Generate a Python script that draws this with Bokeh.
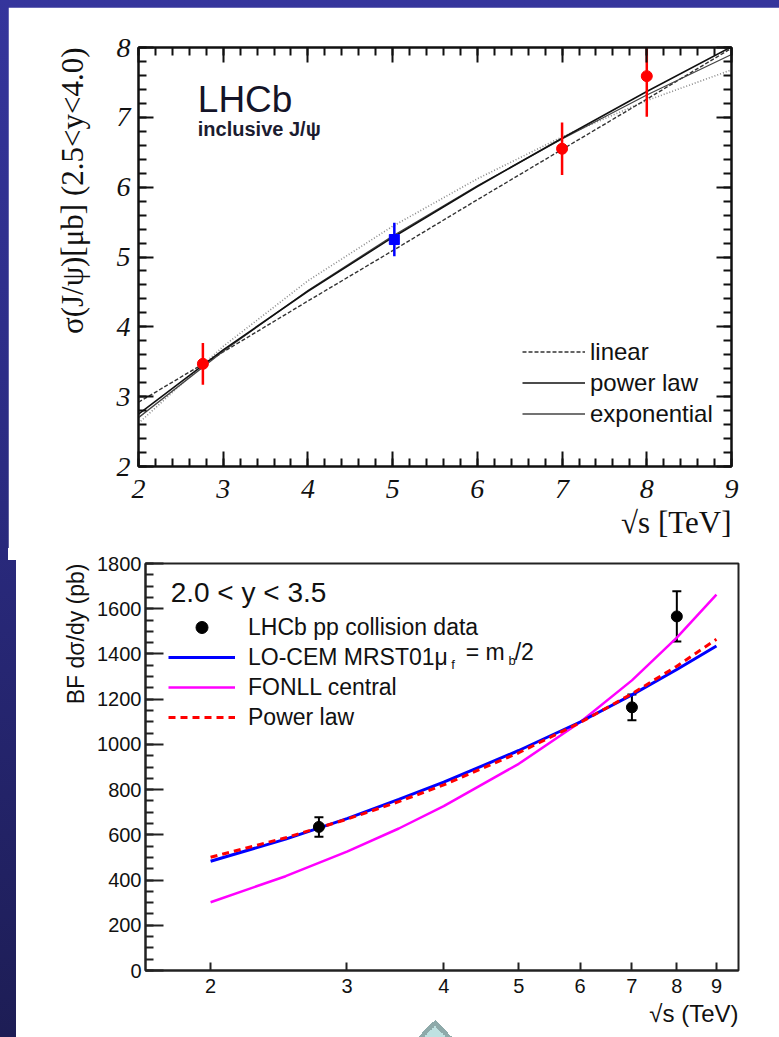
from bokeh.plotting import figure
from bokeh.models import (ColumnDataSource, Whisker, TeeHead, Legend, LegendItem, Label, Title,
                          LinearAxis, SingleIntervalTicker, FixedTicker, Range1d,
                          CustomJSTickFormatter, NumeralTickFormatter)
from bokeh.layouts import column, row
from bokeh.embed import file_html
from bokeh.resources import INLINE

# ---------------- inclusive J/psi cross-section, 2.5<y<4.0 ----------------
jpsi_sqrts = [2.76, 7.0, 8.0]
jpsi_sigma = [3.47, 6.55, 7.59]
jpsi_err = [0.30, 0.375, 0.58]

jpsi5_sqrts = [5.02]
jpsi5_sigma = [5.25]
jpsi5_err = [0.24]

fit_sqrts = [2, 3, 4, 5, 6, 7, 8, 9]
fit_linear = [2.92, 3.64, 4.37, 5.09, 5.82, 6.54, 7.26, 7.99]
fit_power = [2.75, 3.67, 4.51, 5.28, 6.01, 6.70, 7.37, 8.01]
fit_expo = [2.70, 3.65, 4.52, 5.30, 6.02, 6.69, 7.32, 7.90]
fit_band = [2.62, 3.72, 4.66, 5.44, 6.12, 6.72, 7.24, 7.68]

# ---------------- BF dsigma/dy, 2.0<y<3.5 ----------------
bf_sqrts = [2.76, 7.0, 8.0]
bf_val = [635, 1164, 1566]
bf_err = [43, 57, 111]

th_sqrts = [2, 2.5, 3, 3.5, 4, 5, 6, 7, 8, 9]
lo_cem = [483, 581, 672, 757, 833, 973, 1099, 1219, 1331, 1435]
fonll = [302, 417, 526, 628, 727, 914, 1098, 1283, 1472, 1662]
power_law = [501, 587, 669, 747, 821, 963, 1096, 1224, 1346, 1465]

bottom_xticks = [2, 3, 4, 5, 6, 7, 8, 9]

INK = "#111111"
SERIF = "Liberation Serif"
SANS = "Liberation Sans"
blank = CustomJSTickFormatter(code="return ''")

# ======================= top panel =======================
p1 = figure(width=771, height=547, x_range=Range1d(2, 9), y_range=Range1d(2, 8),
            output_backend="svg", toolbar_location=None,
            min_border_left=130, min_border_right=48, min_border_top=40,
            min_border_bottom=88, background_fill_color="white",
            border_fill_color="white")
p1.margin = (7, 0, 0, 8)
p1.xgrid.visible = False
p1.ygrid.visible = False
p1.outline_line_color = INK
p1.outline_line_width = 2

ax1_b = p1.below[0]
ax1_l = p1.left[0]
ax1_t = LinearAxis(formatter=blank)
ax1_r = LinearAxis(formatter=blank)
p1.add_layout(ax1_t, "above")
p1.add_layout(ax1_r, "right")

for ax in (ax1_b, ax1_l, ax1_t, ax1_r):
    ax.ticker = SingleIntervalTicker(interval=1, num_minor_ticks=5)
    ax.major_tick_in = 15
    ax.major_tick_out = 0
    ax.minor_tick_in = 8
    ax.minor_tick_out = 0
    ax.axis_line_width = 2
    ax.major_tick_line_width = 2
    ax.minor_tick_line_width = 2
    ax.axis_line_color = INK
    ax.major_tick_line_color = INK
    ax.minor_tick_line_color = INK
    ax.major_label_text_font = SERIF
    ax.major_label_text_font_style = "italic"
    ax.major_label_text_font_size = "28px"
    ax.major_label_text_color = INK
    ax.major_label_standoff = 8
ax1_b.major_label_standoff = 13

p1.add_layout(Title(text="σ(J/ψ)[μb] (2.5<y<4.0)", align="right", standoff=48,
                    text_font=SERIF, text_font_size="31px", text_font_style="normal",
                    text_color=INK), "left")
p1.add_layout(Title(text="√s [TeV]", align="right", standoff=4,
                    text_font=SERIF, text_font_size="31px", text_font_style="normal",
                    text_color=INK), "below")

r_band = p1.line(fit_sqrts, fit_band, line_color="#8a8a8a", line_width=1.6, line_dash="1 2")
r_lin = p1.line(fit_sqrts, fit_linear, line_color="#333333", line_width=1.4, line_dash="4 2")
r_exp = p1.line(fit_sqrts, fit_expo, line_color="#444444", line_width=1.3)
r_pow = p1.line(fit_sqrts, fit_power, line_color="#111111", line_width=1.6)

src1 = ColumnDataSource(dict(x=jpsi_sqrts, y=jpsi_sigma,
                             lo=[v - e for v, e in zip(jpsi_sigma, jpsi_err)],
                             hi=[v + e for v, e in zip(jpsi_sigma, jpsi_err)]))
src5 = ColumnDataSource(dict(x=jpsi5_sqrts, y=jpsi5_sigma,
                             lo=[v - e for v, e in zip(jpsi5_sigma, jpsi5_err)],
                             hi=[v + e for v, e in zip(jpsi5_sigma, jpsi5_err)]))
p1.segment(x0="x", y0="lo", x1="x", y1="hi", source=src1, line_color="#ff0000", line_width=2.5)
p1.scatter("x", "y", source=src1, marker="circle", size=11, color="#ff0000")
p1.segment(x0="x", y0="lo", x1="x", y1="hi", source=src5, line_color="#0000ff", line_width=2.5)
p1.scatter("x", "y", source=src5, marker="square", size=10, color="#0000ff")

p1.add_layout(Label(x=2.70, y=7.26, text="LHCb", text_font=SANS, text_font_size="37px",
                    text_baseline="alphabetic", text_color="#141428"))
p1.add_layout(Label(x=2.70, y=6.83, text="inclusive J/ψ", text_font=SANS,
                    text_font_size="20px", text_font_style="bold",
                    text_baseline="alphabetic", text_color="#1c1c30"))

leg1 = Legend(items=[LegendItem(label="linear", renderers=[r_lin]),
                     LegendItem(label="power law", renderers=[r_pow]),
                     LegendItem(label="exponential", renderers=[r_exp])],
              location=(384, 37), glyph_width=63, glyph_height=31, label_height=31,
              spacing=0, padding=0, margin=0, label_standoff=5,
              label_text_font=SANS, label_text_font_size="24px", label_text_color=INK,
              background_fill_alpha=0, border_line_alpha=0)
p1.add_layout(leg1)

# ======================= bottom panel =======================
p2 = figure(width=763, height=483, x_axis_type="log", x_range=Range1d(1.648, 9.61),
            y_range=Range1d(0, 1800), output_backend="svg", toolbar_location=None,
            min_border_left=129, min_border_right=41, min_border_top=9,
            min_border_bottom=67, background_fill_color="white",
            border_fill_color=None)
p2.margin = (0, 0, 0, 16)
p2.xgrid.visible = False
p2.ygrid.visible = False
p2.outline_line_color = "#222222"
p2.outline_line_width = 2

ax2_b = p2.below[0]
ax2_l = p2.left[0]
ax2_b.ticker = FixedTicker(ticks=bottom_xticks, minor_ticks=[])
ax2_b.formatter = NumeralTickFormatter(format="0")
ax2_l.ticker = SingleIntervalTicker(interval=200, num_minor_ticks=4)

for ax in (ax2_b, ax2_l):
    ax.major_tick_out = 0
    ax.minor_tick_out = 0
    ax.axis_line_width = 2
    ax.major_tick_line_width = 2
    ax.minor_tick_line_width = 2
    ax.axis_line_color = "#222222"
    ax.major_tick_line_color = "#222222"
    ax.minor_tick_line_color = "#222222"
    ax.major_label_text_font = SANS
    ax.major_label_text_font_size = "20px"
    ax.major_label_text_color = INK

ax2_b.major_tick_in = 8
ax2_b.major_label_standoff = 8
ax2_l.major_tick_in = 18
ax2_l.minor_tick_in = 8
ax2_l.major_label_standoff = 4

p2.add_layout(Title(text="BF dσ/dy (pb)", align="right", standoff=12,
                    text_font=SANS, text_font_size="23px", text_font_style="normal",
                    text_color=INK), "left")
p2.add_layout(Title(text="√s (TeV)", align="right", standoff=5,
                    text_font=SANS, text_font_size="24px", text_font_style="normal",
                    text_color=INK), "below")

r_fonll = p2.line(th_sqrts, fonll, line_color="#ff00ff", line_width=2.5)
r_cem = p2.line(th_sqrts, lo_cem, line_color="#0000ff", line_width=3)
r_pl = p2.line(th_sqrts, power_law, line_color="#ff0000", line_width=3, line_dash="7 5")

src2 = ColumnDataSource(dict(x=bf_sqrts, y=bf_val,
                             lo=[v - e for v, e in zip(bf_val, bf_err)],
                             hi=[v + e for v, e in zip(bf_val, bf_err)]))
p2.add_layout(Whisker(base="x", lower="lo", upper="hi", source=src2, dimension="height",
                      line_color="black", line_width=2,
                      upper_head=TeeHead(size=9, line_color="black", line_width=2),
                      lower_head=TeeHead(size=9, line_color="black", line_width=2)))
r_data = p2.scatter("x", "y", source=src2, marker="circle", size=11, color="black")

p2.add_layout(Label(x=1.776, y=1673, text="2.0 < y < 3.5", text_font=SANS,
                    text_font_size="28px", text_baseline="alphabetic", text_color=INK))

leg2 = Legend(items=[LegendItem(label="LHCb pp collision data", renderers=[r_data]),
                     LegendItem(label="LO-CEM MRST01μ", renderers=[r_cem]),
                     LegendItem(label="FONLL central", renderers=[r_fonll]),
                     LegendItem(label="Power law", renderers=[r_pl])],
              location=(23, 238), glyph_width=67, glyph_height=30, label_height=30,
              spacing=0, padding=0, margin=0, label_standoff=13,
              label_text_font=SANS, label_text_font_size="23px", label_text_color=INK,
              background_fill_alpha=0, border_line_alpha=0)
p2.add_layout(leg2)

# subscripted tail of the LO-CEM legend entry
p2.add_layout(Label(x=4.09, y=1318, text="f", text_font=SANS, text_font_size="13px", text_color=INK))
p2.add_layout(Label(x=4.27, y=1352, text="= m", text_font=SANS, text_font_size="23px", text_color=INK))
p2.add_layout(Label(x=4.85, y=1340, text="b", text_font=SANS, text_font_size="13px", text_color=INK))
p2.add_layout(Label(x=4.94, y=1352, text="/2", text_font=SANS, text_font_size="23px", text_color=INK))

# slide backdrop: blue gradient, white card behind the lower chart, navigation tip
slide_bg = ", ".join([
    "linear-gradient(to top left, #bfe1e1 50%, transparent 50%) 424px 1026px / 11px 11px no-repeat",
    "linear-gradient(to top right, #bfe1e1 50%, transparent 50%) 435px 1026px / 11px 11px no-repeat",
    "linear-gradient(to top left, #8eaaaa 50%, transparent 50%) 418px 1020px / 17px 17px no-repeat",
    "linear-gradient(to top right, #8eaaaa 50%, transparent 50%) 435px 1020px / 17px 17px no-repeat",
    "linear-gradient(#ffffff, #ffffff) 16px 554px / 763px 483px no-repeat",
    "linear-gradient(#ffffff, #ffffff) 8px 548px / 771px 12px no-repeat",
    "linear-gradient(180deg, #35359c 0%, #2b2b82 45%, #1d1d55 100%)",
])
# each chart sits in its own row so the two frames keep independent borders
page = column(row(p1), row(p2), spacing=0, styles={"background": slide_bg})

open("out.html", "w").write(file_html(page, INLINE))
